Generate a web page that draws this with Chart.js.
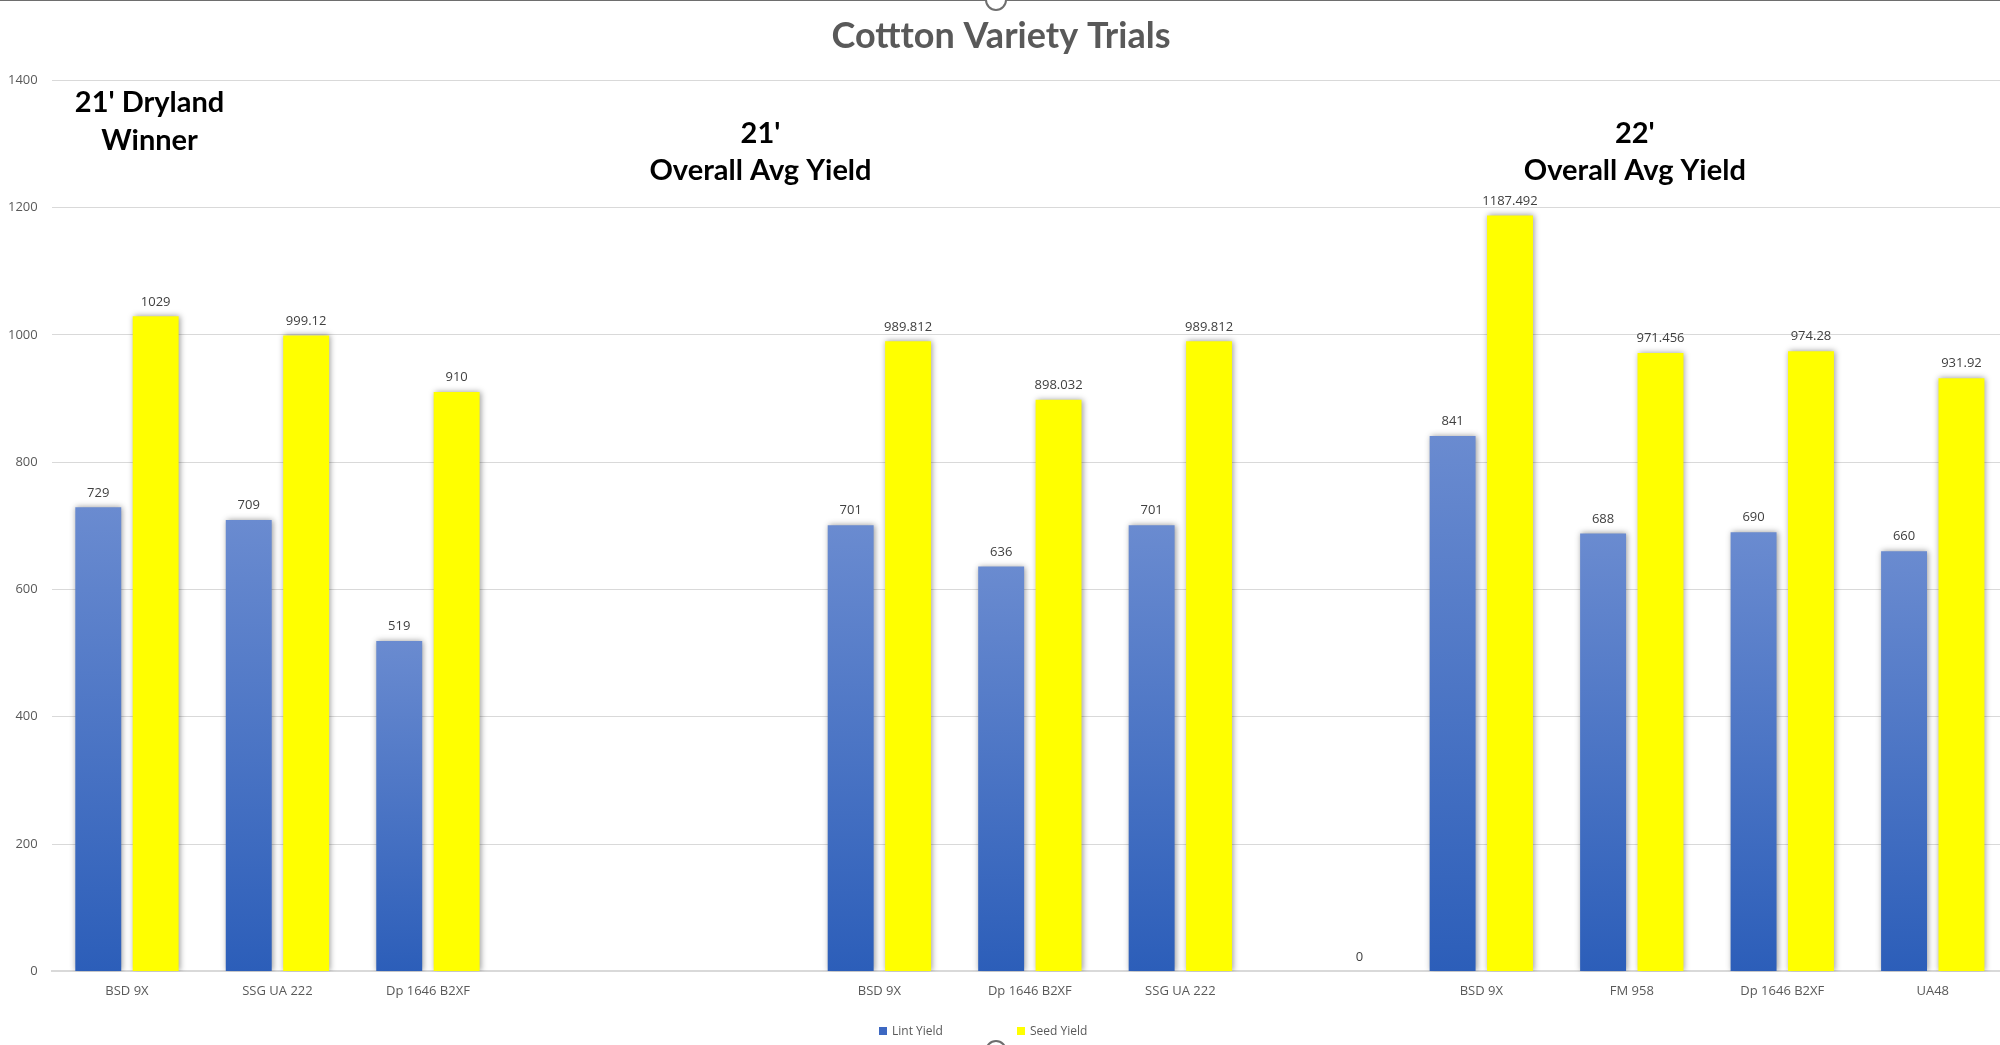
<!DOCTYPE html>
<html>
<head>
<meta charset="utf-8">
<script src="https://cdn.jsdelivr.net/npm/chart.js@4.4.1/dist/chart.umd.min.js"></script>
<style>
  html, body { margin: 0; padding: 0; background: #fff; }
  body { width: 2000px; height: 1045px; overflow: hidden; position: relative; }
  #wrap { position: absolute; left: 0; top: 0; width: 2008px; height: 1045px; }
  .frame-top { position: absolute; left: 0; top: 0; width: 2000px; height: 1px; background: #6e6e6e; }
  .handle { position: absolute; width: 18px; height: 18px; border: 2px solid #6e6e6e; border-radius: 50%; background: #fff; }
  .legend { position: absolute; left: 879px; top: 1022px; display: flex; font: 12px "Open Sans", sans-serif; color: #595959; }
  .legend span.item { display: flex; align-items: center; margin-right: 74px; }
  .legend span.box { width: 8px; height: 8px; margin-right: 5px; display: inline-block; }
</style>
</head>
<body>
<div id="wrap"><canvas id="yieldChart" width="2008" height="1045"></canvas></div>
<div class="frame-top"></div>
<div class="handle" style="left:985px; top:-11px;"></div>
<div class="handle" style="left:985px; top:1040px;"></div>
<div class="legend" id="legend"></div>

<script>
// chart data
const categories = ['BSD 9X', 'SSG UA 222', 'Dp 1646 B2XF', '', '', 'BSD 9X', 'Dp 1646 B2XF', 'SSG UA 222', '', 'BSD 9X', 'FM 958', 'Dp 1646 B2XF', 'UA48'];
const lintYield = [729, 709, 519, null, null, 701, 636, 701, null, 841, 688, 690, 660];
const seedYield = [1029, 999.12, 910, null, null, 989.812, 898.032, 989.812, 0, 1187.492, 971.456, 974.28, 931.92];
const yTicks = [0, 200, 400, 600, 800, 1000, 1200, 1400];

// text boxes placed on the plot (category index, y value)
const noteLines = ["21' Dryland", 'Winner', "21'", 'Overall Avg Yield', "22'", 'Overall Avg Yield'];
const noteAt = [0.15, 0.15, 4.21, 4.21, 10.02, 10.02];
const noteY = [1350, 1290, 1302, 1243, 1302, 1243];

const lintColor = '#3d68c2';
const seedColor = '#ffff00';

// per-bar vertical gradient for lint bars
function lintFill(context) {
  const chart = context.chart;
  if (!chart.chartArea || context.type !== 'data' || context.raw == null) return lintColor;
  const y = chart.scales.y;
  const top = y.getPixelForValue(context.raw);
  const bottom = y.getPixelForValue(0);
  if (bottom - top < 1) return '#2c5eb9';
  const g = chart.ctx.createLinearGradient(0, top, 0, bottom);
  g.addColorStop(0, '#6a8bd0');
  g.addColorStop(1, '#2c5eb9');
  return g;
}

// bar shadows + value labels + text boxes
const barExtras = {
  id: 'barExtras',
  beforeDatasetsDraw(chart) {
    const ctx = chart.ctx;
    ctx.save();
    ctx.shadowColor = 'rgba(0, 0, 0, 0.4)';
    ctx.shadowBlur = 6;
    ctx.shadowOffsetX = 1;
    ctx.shadowOffsetY = 0;
  },
  afterDatasetsDraw(chart) {
    const ctx = chart.ctx;
    ctx.restore();
    ctx.save();
    ctx.font = '13px "Open Sans", sans-serif';
    ctx.fillStyle = '#404040';
    ctx.textAlign = 'center';
    ctx.textBaseline = 'bottom';
    chart.data.datasets.forEach((ds, i) => {
      const meta = chart.getDatasetMeta(i);
      meta.data.forEach((bar, j) => {
        const v = ds.data[j];
        if (v === null || v === undefined) return;
        ctx.fillText(String(v), bar.x, bar.y - 8);
      });
    });
    ctx.restore();
  },
  afterDraw(chart) {
    const ctx = chart.ctx;
    const xs = chart.scales.x;
    const ys = chart.scales.y;
    ctx.save();
    ctx.font = 'bold 29px Lato, sans-serif';
    ctx.fillStyle = '#000000';
    ctx.textAlign = 'center';
    ctx.textBaseline = 'alphabetic';
    noteLines.forEach((t, i) => {
      ctx.fillText(t, xs.getPixelForValue(noteAt[i]), ys.getPixelForValue(noteY[i]));
    });
    ctx.restore();
  }
};

document.addEventListener('DOMContentLoaded', function() {
  const canvas = document.getElementById('yieldChart');

  const chart = new Chart(canvas, {
    type: 'bar',
    data: {
      labels: categories,
      datasets: [{
        label: 'Lint Yield',
        data: lintYield,
        backgroundColor: lintFill,
        borderWidth: 0,
        categoryPercentage: 0.763,
        barPercentage: 0.8,
      }, {
        label: 'Seed Yield',
        data: seedYield,
        backgroundColor: seedColor,
        borderWidth: 0,
        categoryPercentage: 0.763,
        barPercentage: 0.8,
      }]
    },
    options: {
      responsive: false,
      animation: false,
      devicePixelRatio: 1,
      layout: {
        padding: { left: -6, right: 0, top: 0, bottom: 34 }
      },
      plugins: {
        legend: { display: false },
        tooltip: { enabled: false },
        title: {
          display: true,
          text: 'Cottton Variety Trials',
          color: '#595959',
          font: { family: 'Lato', size: 36, weight: 'bold' },
          padding: { top: 15, bottom: 22 }
        }
      },
      scales: {
        x: {
          grid: { display: false, drawTicks: false },
          border: { display: true, color: '#d9d9d9', width: 2 },
          ticks: {
            color: '#595959',
            font: { family: 'Open Sans', size: 13 },
            padding: 12,
            maxRotation: 0,
            autoSkip: false
          }
        },
        y: {
          min: 0,
          max: 1400,
          afterBuildTicks: function(scale) {
            scale.ticks = yTicks.map(v => ({ value: v }));
          },
          grid: { color: '#d9d9d9', drawTicks: false },
          border: { display: false },
          ticks: {
            color: '#595959',
            font: { family: 'Open Sans', size: 13 },
            padding: 14,
            callback: function(value) {
              return String(value);
            }
          }
        }
      }
    },
    plugins: [barExtras]
  });

  // legend built from the datasets
  const legendEl = document.getElementById('legend');
  chart.data.datasets.forEach((ds, i) => {
    const item = document.createElement('span');
    item.className = 'item';
    const box = document.createElement('span');
    box.className = 'box';
    box.style.background = i === 0 ? lintColor : seedColor;
    item.appendChild(box);
    item.appendChild(document.createTextNode(ds.label));
    legendEl.appendChild(item);
  });
});
</script>
</body>
</html>
